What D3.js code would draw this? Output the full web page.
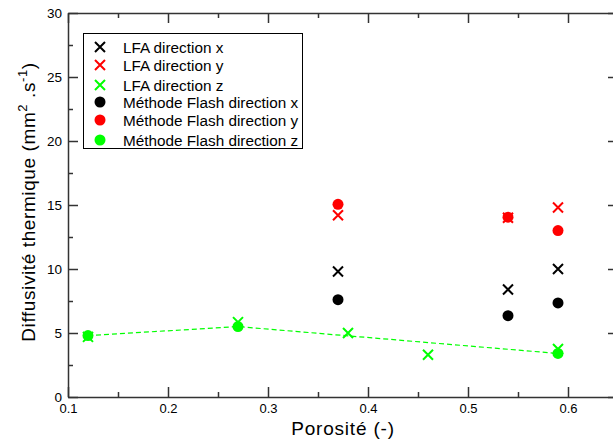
<!DOCTYPE html>
<html>
<head>
<meta charset="utf-8">
<script src="https://cdn.jsdelivr.net/npm/d3@7"></script>
<style>
  html, body { margin: 0; padding: 0; background: #fff; }
  svg { display: block; }
  text { font-family: "Liberation Sans", Arial, Helvetica, sans-serif; fill: #000; }
</style>
</head>
<body>
<svg id="chart" width="613" height="443"></svg>
<script>
// ---- data ----
const lfaX = [[0.37, 9.8], [0.54, 8.4], [0.59, 10.0]];
const lfaY = [[0.37, 14.2], [0.54, 14.0], [0.59, 14.8]];
const lfaZ = [[0.12, 4.7], [0.27, 5.85], [0.38, 5.0], [0.46, 3.3], [0.59, 3.75]];
const flashX = [[0.37, 7.6], [0.54, 6.35], [0.59, 7.35]];
const flashY = [[0.37, 15.05], [0.54, 14.05], [0.59, 13.0]];
const flashZ = [[0.12, 4.8], [0.27, 5.5], [0.59, 3.4]];
const xTicks = [0.1, 0.2, 0.3, 0.4, 0.5, 0.6];
const yTicks = [0, 5, 10, 15, 20, 25, 30];
const legendLabels = ["LFA direction x", "LFA direction y", "LFA direction z",
  "Méthode Flash direction x", "Méthode Flash direction y", "Méthode Flash direction z"];

// ---- layout ----
const svg = d3.select("#chart");
const L = 68, R = 618, T = 13, B = 397;
const x = d3.scaleLinear().domain([0.1, 0.65]).range([L, R]);
const y = d3.scaleLinear().domain([0, 30]).range([B, T]);
const colors = { x: "#000000", y: "#ff0000", z: "#00ff00" };

// minor ticks
const xMinor = d3.range(0.15, 0.65, 0.1);
const yMinor = d3.range(2.5, 30, 5);

// axes (ticks inward)
const axisColor = "#333";
function styleAxis(g) {
  g.selectAll("path").attr("stroke", axisColor).attr("stroke-width", 1.5);
  g.selectAll("line").attr("stroke", axisColor).attr("stroke-width", 1.5);
}
const gBottom = svg.append("g").attr("transform", `translate(0,${B})`)
  .call(d3.axisBottom(x).tickValues(xTicks).tickSize(-10).tickSizeOuter(0).tickPadding(7).tickFormat(d3.format(".1f")));
gBottom.call(styleAxis);
gBottom.selectAll("text").attr("font-size", 13).attr("dy", "0.71em");
svg.append("g").attr("transform", `translate(0,${B})`)
  .call(d3.axisBottom(x).tickValues(xMinor).tickSize(-5).tickSizeOuter(0).tickFormat(""))
  .call(styleAxis).select("path").remove();

const gTop = svg.append("g").attr("transform", `translate(0,${T})`)
  .call(d3.axisTop(x).tickValues(xTicks).tickSize(-10).tickSizeOuter(0).tickFormat(""));
gTop.call(styleAxis);
svg.append("g").attr("transform", `translate(0,${T})`)
  .call(d3.axisTop(x).tickValues(xMinor).tickSize(-5).tickSizeOuter(0).tickFormat(""))
  .call(styleAxis).select("path").remove();

const gLeft = svg.append("g").attr("transform", `translate(${L},0)`)
  .call(d3.axisLeft(y).tickValues(yTicks).tickSize(-10).tickSizeOuter(0).tickPadding(6).tickFormat(d3.format("d")));
gLeft.call(styleAxis);
gLeft.selectAll("text").attr("font-size", 13.5);
svg.append("g").attr("transform", `translate(${L},0)`)
  .call(d3.axisLeft(y).tickValues(yMinor).tickSize(-5).tickSizeOuter(0).tickFormat(""))
  .call(styleAxis).select("path").remove();

const gRight = svg.append("g").attr("transform", `translate(${R},0)`)
  .call(d3.axisRight(y).tickValues(yTicks).tickSize(-10).tickSizeOuter(0).tickFormat(""));
gRight.call(styleAxis);
svg.append("g").attr("transform", `translate(${R},0)`)
  .call(d3.axisRight(y).tickValues(yMinor).tickSize(-5).tickSizeOuter(0).tickFormat(""))
  .call(styleAxis).select("path").remove();

// dashed line through flash z
svg.append("path").datum(flashZ)
  .attr("fill", "none").attr("stroke", colors.z).attr("stroke-width", 1.2)
  .attr("stroke-dasharray", "5,3")
  .attr("d", d3.line().x(d => x(d[0])).y(d => y(d[1])));

// markers
const crossPath = s => `M${-s},${-s}L${s},${s}M${-s},${s}L${s},${-s}`;
function drawCircles(data, c) {
  svg.append("g").selectAll("circle").data(data).join("circle")
    .attr("cx", d => x(d[0])).attr("cy", d => y(d[1])).attr("r", 5.5).attr("fill", c);
}
function drawCrosses(data, c) {
  svg.append("g").selectAll("path").data(data).join("path")
    .attr("transform", d => `translate(${x(d[0])},${y(d[1])})`)
    .attr("d", crossPath(5)).attr("stroke", c).attr("stroke-width", 2).attr("fill", "none");
}
drawCircles(flashX, colors.x);
drawCircles(flashY, colors.y);
drawCircles(flashZ, colors.z);
drawCrosses(lfaX, colors.x);
drawCrosses(lfaY, colors.y);
drawCrosses(lfaZ, colors.z);

// legend
svg.append("rect").attr("x", 83.5).attr("y", 33.5).attr("width", 219).attr("height", 115)
  .attr("fill", "#fff").attr("stroke", "#000").attr("stroke-width", 1);
const rowsY = [47, 65, 85, 102, 120, 140];
const legendKinds = ["cross", "cross", "cross", "circle", "circle", "circle"];
const legendColors = [colors.x, colors.y, colors.z, colors.x, colors.y, colors.z];
legendLabels.forEach((lab, i) => {
  const yy = rowsY[i];
  if (legendKinds[i] === "cross") {
    svg.append("path").attr("transform", `translate(100,${yy})`).attr("d", crossPath(5))
      .attr("stroke", legendColors[i]).attr("stroke-width", 2).attr("fill", "none");
  } else {
    svg.append("circle").attr("cx", 100).attr("cy", yy).attr("r", 5.5).attr("fill", legendColors[i]);
  }
  svg.append("text").attr("x", 123).attr("y", yy).attr("dy", "0.36em")
    .attr("font-size", 15.3).text(lab);
});

// axis titles
svg.append("text").attr("x", (L + R) / 2).attr("y", 435).attr("text-anchor", "middle")
  .attr("font-size", 19).attr("letter-spacing", 0.8).text("Porosité (-)");

const yt = svg.append("text").attr("transform", `translate(35,${(T + B) / 2 - 3}) rotate(-90)`)
  .attr("text-anchor", "middle").attr("font-size", 19).attr("letter-spacing", 0.6);
yt.append("tspan").text("Diffusivité thermique (mm");
yt.append("tspan").attr("dy", -8).attr("font-size", 13).text("2");
yt.append("tspan").attr("dy", 8).text(" .s");
yt.append("tspan").attr("dy", -8).attr("font-size", 13).text("-1");
yt.append("tspan").attr("dy", 8).text(")");
</script>
</body>
</html>
